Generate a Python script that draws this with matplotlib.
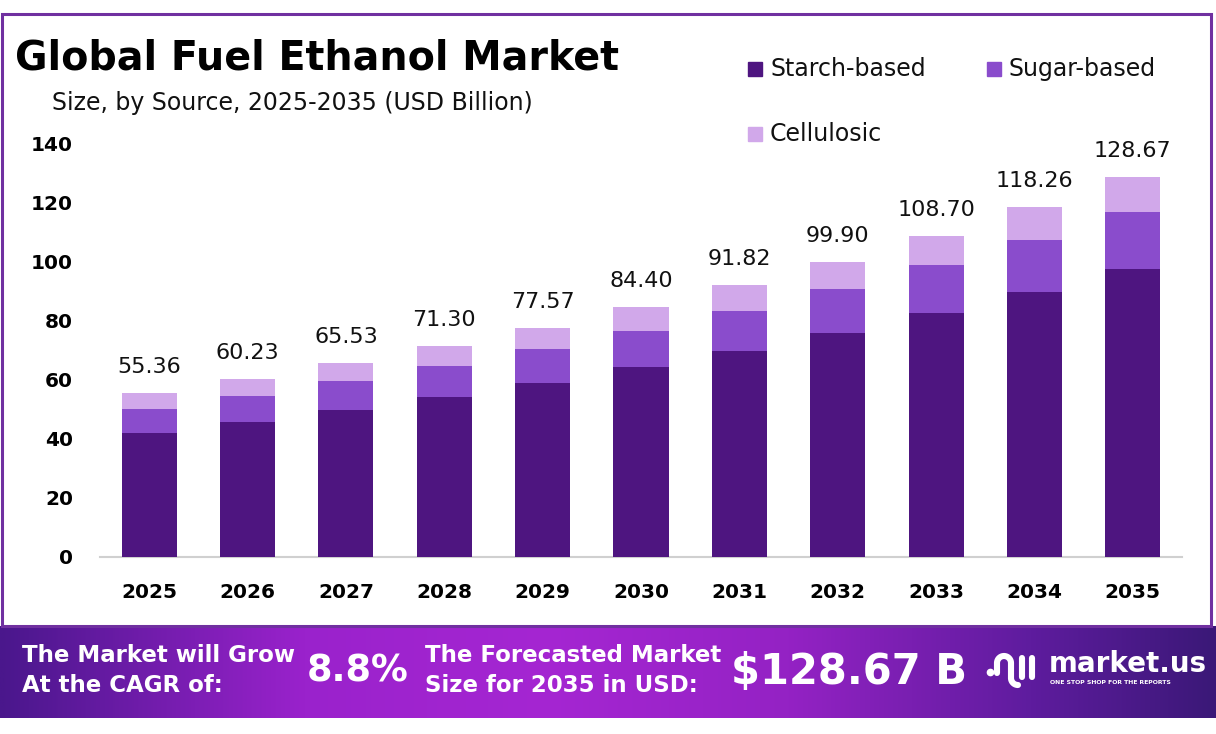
import matplotlib
matplotlib.use("Agg")
import matplotlib.pyplot as plt
import numpy as np
from matplotlib.colors import LinearSegmentedColormap
from matplotlib.patches import Rectangle

# ---- data ----
years = ["2025", "2026", "2027", "2028", "2029", "2030", "2031", "2032", "2033", "2034", "2035"]
totals = [55.36, 60.23, 65.53, 71.30, 77.57, 84.40, 91.82, 99.90, 108.70, 118.26, 128.67]
starch = [42.0, 45.6, 49.7, 54.2, 58.8, 64.1, 69.8, 75.9, 82.5, 89.6, 97.4]
sugar = [8.0, 8.8, 9.9, 10.4, 11.5, 12.4, 13.4, 14.7, 16.3, 17.6, 19.3]
cellulosic = [5.36, 5.83, 5.93, 6.70, 7.27, 7.90, 8.62, 9.30, 9.90, 11.06, 11.97]
series_names = ["Starch-based", "Sugar-based", "Cellulosic"]
yticks = [0, 20, 40, 60, 80, 100, 120, 140]
cagr_text = "8.8%"
forecast_text = "$128.67 B"

colors = ["#4e1580", "#8a4ccc", "#d1a8ea"]
BOLD = "DejaVu Sans"
REG = "DejaVu Sans"

W, H = 1216, 734
fig = plt.figure(figsize=(W / 100, H / 100), dpi=100)
fig.patch.set_facecolor("white")

def fx(x):
    return x / W

def fy(y):
    return 1 - y / H

# outer border
border = Rectangle((fx(1.5), fy(626)), fx(1211) - fx(1.5), fy(14) - fy(626),
                   transform=fig.transFigure, fill=False, edgecolor="#7030a0",
                   linewidth=2.2, zorder=0)
fig.patches.append(border)

# main axes
ax = fig.add_axes([fx(100), fy(557), fx(1182) - fx(100), fy(143) - fy(557)])
x = np.arange(len(years))
bw = 0.56
ax.bar(x, starch, bw, color=colors[0], zorder=3)
ax.bar(x, sugar, bw, bottom=starch, color=colors[1], zorder=3)
bottom2 = [a + b for a, b in zip(starch, sugar)]
ax.bar(x, cellulosic, bw, bottom=bottom2, color=colors[2], zorder=3)

for xi, t in zip(x, totals):
    ax.annotate(f"{t:.2f}", (xi, t), xytext=(0, 16), textcoords="offset pixels",
                ha="center", va="bottom", fontsize=16, family=REG, color="#111111")

ax.set_xlim(-0.5, 10.5)
ax.set_ylim(0, 140)
ax.set_xticks(x)
ax.set_xticklabels(years, fontsize=14.5, fontweight="bold", family=BOLD)
ax.set_yticks(yticks)
ax.set_yticklabels([str(v) for v in yticks], fontsize=14.5, fontweight="bold", family=BOLD)
ax.tick_params(axis="both", length=0)
ax.tick_params(axis="y", pad=19.5)
ax.tick_params(axis="x", pad=19)
for s in ["top", "right", "left"]:
    ax.spines[s].set_visible(False)
ax.spines["bottom"].set_color("#d0d0d0")
ax.spines["bottom"].set_linewidth(1.5)
ax.set_facecolor("none")

# titles
fig.text(fx(15), fy(58), "Global Fuel Ethanol Market", fontsize=28.5, fontweight="bold",
         family=BOLD, va="center", ha="left", color="black")
fig.text(fx(52), fy(103), "Size, by Source, 2025-2035 (USD Billion)", fontsize=17,
         family=REG, va="center", ha="left", color="#111111")

# legend
leg_items = [(748, 69, series_names[0], colors[0]),
             (987, 69, series_names[1], colors[1]),
             (748, 134, series_names[2], colors[2])]
for lx, ly, name, c in leg_items:
    fig.patches.append(Rectangle((fx(lx), fy(ly + 7)), fx(14), 14 / H,
                                 transform=fig.transFigure, color=c))
    fig.text(fx(lx + 22), fy(ly), name, fontsize=17, family=REG, va="center",
             ha="left", color="#111111")

# banner with gradient
bax = fig.add_axes([0, fy(718), 1, fy(626) - fy(718)])
cmap = LinearSegmentedColormap.from_list(
    "ban", [(0.0, "#4a178c"), (0.25, "#9a22cc"), (0.45, "#a526d2"),
            (0.65, "#9422c4"), (0.85, "#5e1c9e"), (1.0, "#3b1878")])
grad = np.linspace(0, 1, 512).reshape(1, -1)
bax.imshow(grad, aspect="auto", cmap=cmap, extent=[0, W, 0, 92])
bax.set_xlim(0, W)
bax.set_ylim(0, 92)
bax.axis("off")

bt = dict(color="white", fontweight="bold", family=BOLD, va="center", ha="left")
fig.text(fx(22), fy(656), "The Market will Grow", fontsize=16.5, **bt)
fig.text(fx(22), fy(686), "At the CAGR of:", fontsize=16.5, **bt)
fig.text(fx(307), fy(671), cagr_text, fontsize=26.5, **bt)
fig.text(fx(425), fy(656), "The Forecasted Market", fontsize=16.5, **bt)
fig.text(fx(425), fy(686), "Size for 2035 in USD:", fontsize=16.5, **bt)
fig.text(fx(731), fy(672), forecast_text, fontsize=30, **bt)

# logo
fig.text(fx(1049), fy(664), "market.us", fontsize=20, **bt)
fig.text(fx(1050), fy(682), "ONE STOP SHOP FOR THE REPORTS", fontsize=4.4,
         color="white", fontweight="bold", family=BOLD, va="center", ha="left")

def by(y):
    return 718 - y

lw_icon = 4.4
bax.plot(990, by(672), "o", color="white", ms=4.5)
# arch: left leg, top arc, right leg, hook
t1 = np.linspace(np.pi, 0, 30)
arc_x = 1004 + 7 * np.cos(t1)
arc_y = by(663) + 7 * np.sin(t1)
t2 = np.linspace(np.pi, 1.5 * np.pi, 20)
hook_x = 1018 + 7 * np.cos(t2)
hook_y = by(678) + 7 * np.sin(t2)
path_x = np.concatenate([[997], arc_x, [1011], hook_x])
path_y = np.concatenate([[by(673)], arc_y, [by(678)], hook_y])
bax.plot(path_x, path_y, color="white", lw=lw_icon, solid_capstyle="round",
         solid_joinstyle="round")
bax.plot([1022, 1022], [by(658), by(677)], color="white", lw=lw_icon,
         solid_capstyle="round")
bax.plot([1032, 1032], [by(658), by(677)], color="white", lw=lw_icon,
         solid_capstyle="round")

fig.savefig("out.png", dpi=100, facecolor="white")
